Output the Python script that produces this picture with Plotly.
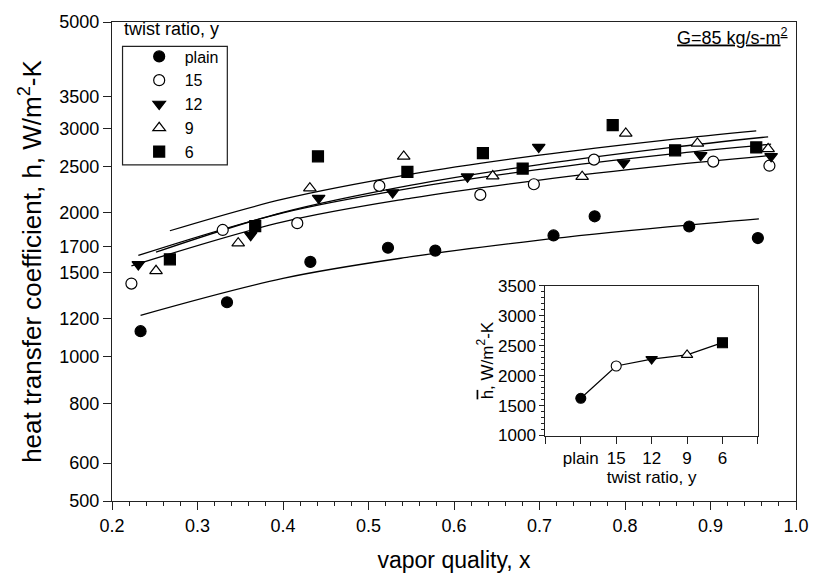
import plotly.graph_objects as go

# ---- data ----
series_names = ["plain", "15", "12", "9", "6"]

x_plain = [0.2334, 0.3345, 0.4320, 0.5228, 0.5781, 0.7164, 0.7645, 0.8751, 0.9554]
h_plain = [1131, 1300, 1578, 1689, 1666, 1792, 1965, 1871, 1770]

x_15 = [0.2227, 0.3295, 0.4167, 0.5127, 0.6308, 0.6934, 0.7637, 0.9032, 0.9689]
h_15 = [1422, 1840, 1901, 2274, 2178, 2292, 2580, 2556, 2506]

x_12 = [0.2308, 0.3622, 0.4417, 0.5282, 0.6158, 0.6991, 0.7983, 0.8885, 0.9709]
h_12 = [1559, 1794, 2145, 2203, 2377, 2740, 2540, 2634, 2621]

x_9 = [0.2515, 0.3476, 0.4314, 0.5412, 0.6453, 0.7499, 0.8009, 0.8847, 0.9674]
h_9 = [1512, 1727, 2249, 2621, 2384, 2377, 2927, 2790, 2717]

x_6 = [0.2677, 0.3675, 0.4409, 0.5455, 0.6338, 0.6803, 0.7856, 0.8586, 0.9535]
h_6 = [1598, 1875, 2621, 2432, 2661, 2472, 3046, 2698, 2736]

# fitted curves
cx_plain = [0.2334, 0.40, 0.55, 0.70, 0.85, 0.9566]
ch_plain = [1221, 1458, 1618, 1752, 1867, 1941]
cx_15 = [0.2227, 0.40, 0.55, 0.70, 0.85, 0.9689]
ch_15 = [1548, 1912, 2144, 2339, 2509, 2630]
cx_12 = [0.2308, 0.40, 0.55, 0.70, 0.85, 0.9709]
ch_12 = [1628, 1998, 2250, 2461, 2646, 2780]
cx_9 = [0.2515, 0.40, 0.55, 0.70, 0.85, 0.9674]
ch_9 = [1654, 2002, 2282, 2520, 2730, 2879]
cx_6 = [0.2677, 0.40, 0.55, 0.70, 0.85, 0.9535]
ch_6 = [1833, 2133, 2406, 2636, 2837, 2963]

# inset: average h by twist ratio
inset_cats = ["plain", "15", "12", "9", "6"]
inset_pos = [1, 2, 3, 4, 5]
inset_h = [1621, 2160, 2276, 2345, 2549]

y_ticks = [500, 600, 800, 1000, 1200, 1500, 1700, 2000, 2500, 3000, 3500, 5000]

# ---- styles ----
FONT = "Liberation Sans, Arial, Helvetica, sans-serif"
symbols = ["circle", "circle", "triangle-down", "triangle-up", "square"]
fills = ["black", "white", "black", "white", "black"]

pts = [(x_plain, h_plain), (x_15, h_15), (x_12, h_12), (x_9, h_9), (x_6, h_6)]
curves = [(cx_plain, ch_plain), (cx_15, ch_15), (cx_12, ch_12), (cx_9, ch_9), (cx_6, ch_6)]

fig = go.Figure()

for (cx, ch) in curves:
    fig.add_trace(go.Scatter(x=cx, y=ch, mode="lines", line=dict(color="black", width=1.3, shape="spline"),
                             showlegend=False, hoverinfo="skip"))

for name, (xs, hs), sym, fc in zip(series_names, pts, symbols, fills):
    fig.add_trace(go.Scatter(
        x=xs, y=hs, mode="markers", name=name,
        marker=dict(symbol=sym, size=11, color=fc, line=dict(color="black", width=1.2)),
    ))

# inset
fig.add_trace(go.Scatter(
    x=inset_pos, y=inset_h, mode="lines+markers", xaxis="x2", yaxis="y2", showlegend=False,
    line=dict(color="black", width=1.2),
    marker=dict(symbol=symbols, color=fills, size=10, line=dict(color="black", width=1.1)),
))

fig.update_layout(
    width=821, height=581,
    margin=dict(l=112, r=15, t=18, b=78),
    paper_bgcolor="white", plot_bgcolor="white",
    font=dict(family=FONT, size=18, color="black"),
    xaxis=dict(range=[0.2, 1.0], dtick=0.1, tick0=0.2, tickformat=".1f",
               showline=True, linecolor="#222", linewidth=1.3, mirror=True,
               ticks="outside", ticklen=8, tickcolor="#222", tickwidth=1.2,
               minor=dict(dtick=0.02, ticks="outside", ticklen=4, tickcolor="#222", tickwidth=1),
               showgrid=False, zeroline=False,
               title=dict(text="vapor quality, x", font=dict(size=23), standoff=17)),
    yaxis=dict(type="log", range=[2.69897, 3.69897], tickvals=y_ticks, ticktext=[str(v) for v in y_ticks],
               showline=True, linecolor="#222", linewidth=1.3, mirror=True,
               ticks="outside", ticklen=8, tickcolor="#222", tickwidth=1.2,
               showgrid=False, zeroline=False,
               title=dict(text="heat transfer coefficient, h, W/m<sup>2</sup>-K", font=dict(size=26), standoff=10)),
    xaxis2=dict(domain=[0.6336, 0.9443], anchor="y2", range=[0, 6],
                tickvals=[0, 1, 2, 3, 4, 5, 6], ticktext=["", "plain", "15", "12", "9", "6", ""],
                showline=True, linecolor="#222", linewidth=1.2, mirror=True,
                ticks="outside", ticklen=7, tickcolor="#222", showgrid=False, zeroline=False,
                tickfont=dict(size=17),
                title=dict(text="twist ratio, y", font=dict(size=17), standoff=0)),
    yaxis2=dict(domain=[0.1367, 0.4495], anchor="x2", range=[1000, 3500], dtick=500, tick0=1000,
                showline=True, linecolor="#222", linewidth=1.2, mirror=True,
                ticks="outside", ticklen=5, tickcolor="#222", showgrid=False, zeroline=False,
                minor=dict(dtick=100, ticks="outside", ticklen=3, tickcolor="#222"),
                tickfont=dict(size=17),
                title=dict(text="<span style='text-decoration:overline'>h</span>, W/m<sup>2</sup>-K",
                           font=dict(size=17), standoff=0)),
    legend=dict(x=0.0317, y=0.9635, xanchor="left", yanchor="top",
                borderwidth=0, bgcolor="rgba(0,0,0,0)",
                font=dict(size=16), tracegroupgap=0, itemwidth=41),
    showlegend=True,
    shapes=[dict(type="rect", xref="paper", yref="paper", x0=0.0154, x1=0.1686, y0=0.7017, y1=0.949,
                 line=dict(color="#222", width=1.2), fillcolor="rgba(0,0,0,0)", layer="above")],
)

fig.add_annotation(text="twist ratio, y", xref="paper", yref="paper", x=0.0144, y=0.985,
                   xanchor="left", yanchor="middle", showarrow=False, font=dict(size=18))
fig.add_annotation(text="<u>G=85 kg/s-m<sup>2</sup></u>", xref="paper", yref="paper", x=0.991, y=0.97,
                   xanchor="right", yanchor="middle", showarrow=False, font=dict(size=18))

fig.write_html("out.html")
